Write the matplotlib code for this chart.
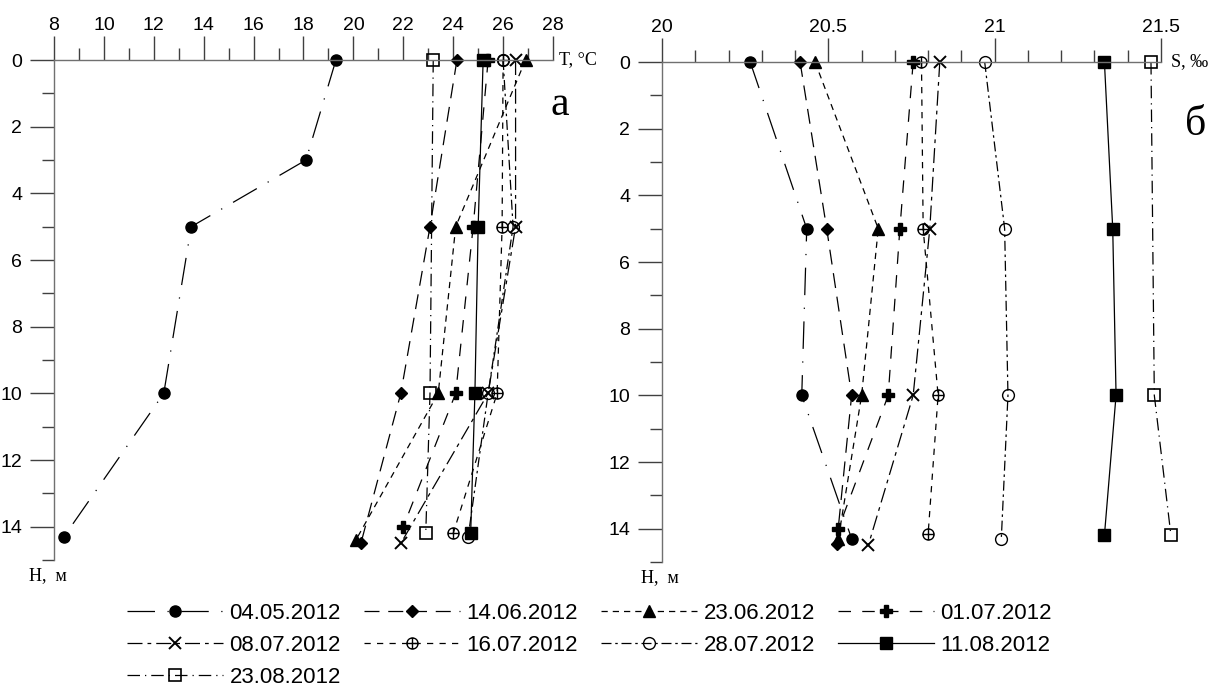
import numpy as np
import matplotlib
matplotlib.use('Agg')
import matplotlib.pyplot as plt
from matplotlib.path import Path
from matplotlib.ticker import MultipleLocator

''' Data read off the picture '''
dates = ['04.05.2012', '14.06.2012', '23.06.2012', '01.07.2012', '08.07.2012',
         '16.07.2012', '28.07.2012', '11.08.2012', '23.08.2012']

# depth (m) of each station, per series
H_T = [[0, 3, 5, 10, 14.3],
       [0, 5, 10, 14.5],
       [0, 5, 10, 14.4],
       [0, 5, 10, 14.0],
       [0, 5, 10, 14.5],
       [0, 5, 10, 14.2],
       [0, 5, 10, 14.3],
       [0, 5, 10, 14.2],
       [0, 10, 14.2]]
T = [[19.3, 18.1, 13.5, 12.4, 8.4],
     [24.15, 23.07, 21.9, 20.3],
     [26.9, 24.1, 23.4, 20.1],
     [25.4, 24.8, 24.1, 22.0],
     [26.5, 26.5, 25.4, 21.9],
     [26.0, 25.96, 25.76, 24.0],
     [26.0, 26.4, 25.4, 24.6],
     [25.2, 25.0, 24.87, 24.7],
     [23.2, 23.07, 22.9]]

H_S = [[0, 5, 10, 14.3],
       [0, 5, 10, 14.45],
       [0, 5, 10, 14.3],
       [0, 5, 10, 14.0],
       [0, 5, 10, 14.5],
       [0, 5, 10, 14.15],
       [0, 5, 10, 14.3],
       [0, 5, 10, 14.2],
       [0, 10, 14.2]]
S = [[20.265, 20.435, 20.42, 20.57],
     [20.415, 20.495, 20.57, 20.525],
     [20.46, 20.65, 20.60, 20.53],
     [20.755, 20.715, 20.68, 20.53],
     [20.835, 20.805, 20.755, 20.62],
     [20.78, 20.785, 20.83, 20.80],
     [20.97, 21.03, 21.04, 21.02],
     [21.33, 21.355, 21.365, 21.33],
     [21.47, 21.48, 21.53]]

''' Styles '''
circ = Path.unit_circle()
cross = Path([[-1, 0], [1, 0], [0, -1], [0, 1]],
             [Path.MOVETO, Path.LINETO, Path.MOVETO, Path.LINETO])
oplus = Path.make_compound_path(circ, cross)

styles = [
    dict(marker='o', ms=8, mfc='k', ls=(0, (22, 10, 1, 10))),
    dict(marker='D', ms=6.5, mfc='k', ls=(0, (12, 7))),
    dict(marker='^', ms=8, mfc='k', ls=(0, (5, 4))),
    dict(marker='P', ms=8.5, mfc='k', ls=(0, (10, 9))),
    dict(marker='x', ms=8, mfc='k', mew=1.4, ls=(0, (12, 4, 3, 4))),
    dict(marker=oplus, ms=8, mfc='none', mew=1.0, ls=(0, (5, 5))),
    dict(marker='o', ms=8.5, mfc='none', mew=1.0, ls=(0, (8, 3, 2, 3))),
    dict(marker='s', ms=8.5, mfc='k', ls='-'),
    dict(marker='s', ms=8, mfc='none', mew=1.2, ls=(0, (10, 4, 1, 4))),
]

plt.rcParams['font.family'] = ['Liberation Sans', 'DejaVu Sans']
plt.rcParams['font.size'] = 14

fig = plt.figure(figsize=(12.13, 6.89), dpi=100)
axL = fig.add_axes([0.0445, 0.1872, 0.4114, 0.7257])
axR = fig.add_axes([0.5458, 0.1843, 0.4113, 0.7257])

handles = []
for i in range(len(dates)):
    st = dict(styles[i])
    ls = st.pop('ls')
    l, = axL.plot(T[i], H_T[i], color='k', lw=0.9, ls=ls, mec='k', label=dates[i],
                  clip_on=False, **st)
    axR.plot(S[i], H_S[i], color='k', lw=0.9, ls=ls, mec='k', clip_on=False, **st)
    handles.append(l)

for ax in (axL, axR):
    ax.set_ylim(15, 0)
    ax.xaxis.tick_top()
    ax.spines['bottom'].set_visible(False)
    ax.spines['right'].set_visible(False)
    for sp in ('top', 'left'):
        ax.spines[sp].set_color('#707070')
        ax.spines[sp].set_linewidth(1.0)
    ax.yaxis.set_major_locator(MultipleLocator(2))
    ax.yaxis.set_minor_locator(MultipleLocator(1))
    ax.tick_params(axis='x', which='major', direction='out', length=17, width=1, color='#404040', pad=2)
    ax.tick_params(axis='x', which='minor', direction='out', length=9, width=1, color='#404040')
    ax.tick_params(axis='y', which='major', direction='out', length=17, width=1, color='#404040', pad=6)
    ax.tick_params(axis='y', which='minor', direction='out', length=9, width=1, color='#404040')
    ax.set_yticks(np.arange(0, 15, 2))
    ax.patch.set_alpha(0)
    for lab in ax.get_xticklabels() + ax.get_yticklabels():
        lab.set_fontsize(14)

axL.set_xlim(8, 28)
axL.xaxis.set_major_locator(MultipleLocator(2))
axL.xaxis.set_minor_locator(MultipleLocator(1))
axR.set_xlim(20, 21.5)
axR.set_xticks([20, 20.5, 21, 21.5])
axR.set_xticklabels(['20', '20.5', '21', '21.5'])
axR.xaxis.set_minor_locator(MultipleLocator(0.1))

serif = ['Liberation Serif', 'DejaVu Serif']
axL.text(28.25, 0, 'T, °C', family=serif, fontsize=13, ha='left', va='center', clip_on=False)
axR.text(21.53, 0, 'S, ‰', family=serif, fontsize=13, ha='left', va='center', clip_on=False)
axL.text(-0.012, -0.015, 'H,  м', transform=axL.transAxes, family=serif, fontsize=13,
         ha='center', va='top')
axR.text(-0.005, -0.015, 'H,  м', transform=axR.transAxes, family=serif, fontsize=13,
         ha='center', va='top')
axL.text(1.014, 0.91, 'а', transform=axL.transAxes, family=serif, fontsize=30, ha='center', va='center')
axR.text(1.07, 0.875, 'б', transform=axR.transAxes, family=serif, fontsize=30, ha='center', va='center')

# legend: matplotlib fills column by column, so reorder
order = [0, 4, 8, 1, 5, 2, 6, 3, 7]
fig.legend([handles[k] for k in order], [dates[k] for k in order],
           loc='upper center', bbox_to_anchor=(0.486, 0.125), ncol=4, frameon=False,
           handlelength=4.3, handletextpad=0.3, columnspacing=1.05, labelspacing=0.5,
           fontsize=16, borderpad=0, borderaxespad=0)

plt.savefig('out.png', dpi=100)
